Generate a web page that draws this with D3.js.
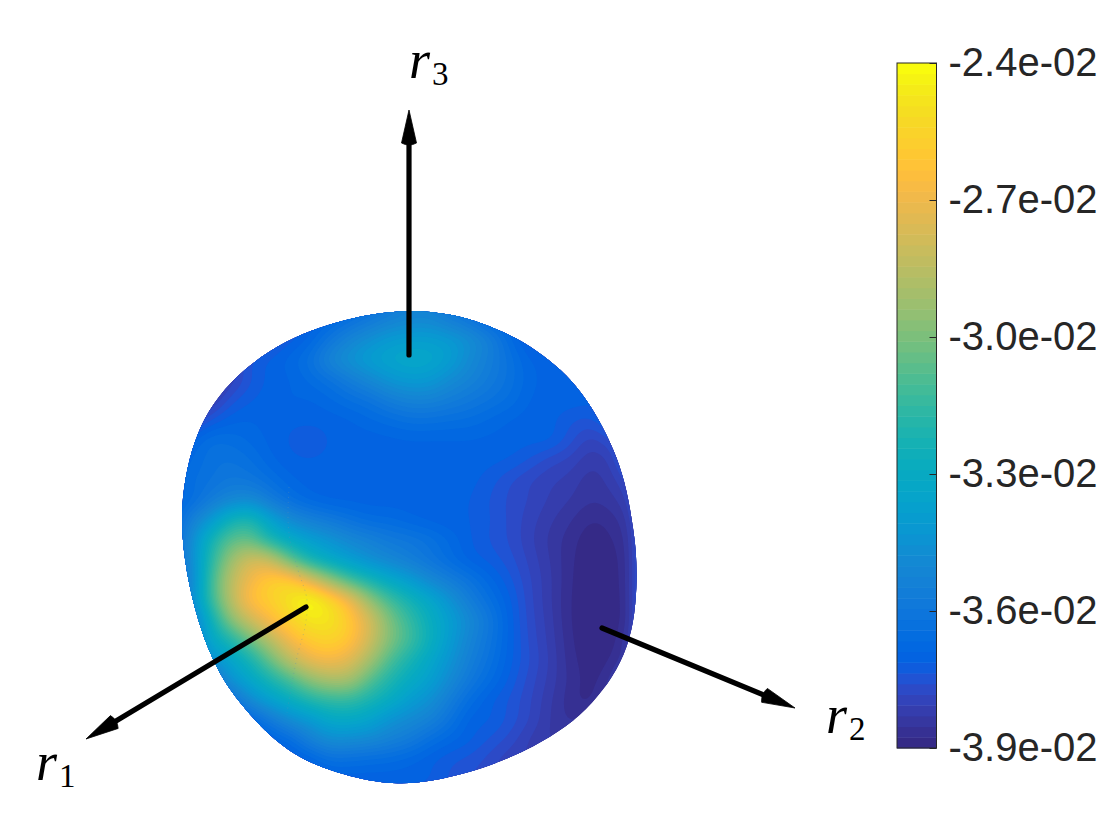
<!DOCTYPE html>
<html>
<head>
<meta charset="utf-8">
<script src="https://cdn.jsdelivr.net/npm/d3@7"></script>
<style>
  body { margin: 0; background: #fff; }
  svg { display: block; }
</style>
</head>
<body>
<div id="chart"></div>
<script>
const width = 1120;
const height = 840;

// colour limits of the surface, in units of 1e-3
const limits = [-39, -24];
const tickValues = [-39, -36, -33, -30, -27, -24];
const tickLabels = ["-3.9e-02", "-3.6e-02", "-3.3e-02", "-3.0e-02", "-2.7e-02", "-2.4e-02"];

// parula, 64 levels
const parula = [
  [.2081,.1663,.5292],[.2116,.1898,.5777],[.2123,.2138,.6270],[.2081,.2386,.6771],
  [.1959,.2645,.7279],[.1707,.2919,.7792],[.1253,.3242,.8303],[.0591,.3598,.8683],
  [.0117,.3875,.8820],[.0060,.4086,.8828],[.0165,.4266,.8786],[.0329,.4430,.8720],
  [.0498,.4586,.8641],[.0629,.4737,.8554],[.0723,.4887,.8467],[.0779,.5040,.8384],
  [.0793,.5200,.8312],[.0749,.5375,.8263],[.0641,.5570,.8240],[.0488,.5772,.8228],
  [.0343,.5966,.8199],[.0265,.6137,.8135],[.0239,.6287,.8038],[.0231,.6418,.7913],
  [.0228,.6535,.7768],[.0267,.6642,.7607],[.0384,.6743,.7436],[.0590,.6838,.7254],
  [.0843,.6928,.7062],[.1133,.7015,.6859],[.1453,.7098,.6646],[.1801,.7177,.6424],
  [.2178,.7250,.6193],[.2586,.7317,.5954],[.3022,.7376,.5712],[.3482,.7424,.5473],
  [.3953,.7459,.5244],[.4420,.7481,.5033],[.4871,.7491,.4840],[.5300,.7491,.4661],
  [.5709,.7485,.4494],[.6099,.7473,.4337],[.6473,.7456,.4188],[.6834,.7435,.4044],
  [.7184,.7411,.3905],[.7525,.7384,.3768],[.7858,.7356,.3633],[.8185,.7327,.3498],
  [.8507,.7299,.3360],[.8824,.7274,.3217],[.9139,.7258,.3063],[.9450,.7261,.2886],
  [.9739,.7314,.2666],[.9938,.7455,.2403],[.9990,.7653,.2164],[.9955,.7861,.1967],
  [.9880,.8066,.1794],[.9789,.8271,.1633],[.9697,.8481,.1475],[.9626,.8705,.1309],
  [.9589,.8949,.1132],[.9598,.9218,.0948],[.9661,.9514,.0755],[.9763,.9831,.0538]
].map(([r, g, b]) => d3.rgb(r * 255, g * 255, b * 255).formatHex());

// surface values, one row per view-plane step (1e-3)
const surface = [
  [-38,-38,-38,-38,-38,-38,-38,-38,-37.5,-37,-36.5,-36,-35.5,-35.5,-36,-36.5,-37,-37.2,-37.2,-37.2,-37.2,-37.2,-37.2,-37.2,-37.2],
  [-38,-38,-38,-38,-38,-38,-37.6,-37.2,-36.8,-36.3,-35.8,-35.3,-35,-35,-35.5,-36,-36.7,-37,-37.2,-37.2,-37.2,-37.2,-37.2,-37.2,-37.2],
  [-38,-38,-38,-38,-38,-37.6,-37.2,-36.8,-36,-35.2,-34.6,-34.1,-33.9,-33.9,-34.2,-34.8,-35.6,-36.6,-37.2,-37.2,-37.2,-37.2,-37.2,-37.2,-37.2],
  [-38,-38,-38,-38,-37.4,-37.1,-36.8,-36.3,-35.3,-34.6,-34,-33.6,-33.4,-33.5,-34,-34.9,-35.6,-36.3,-36.9,-37,-37.1,-37.2,-37.2,-37.2,-37.2],
  [-38.5,-38.5,-38.5,-38,-37.4,-37.05,-36.9,-36.6,-36.2,-35.6,-35,-34.4,-34.1,-34.2,-34.8,-35.3,-35.8,-36.3,-36.8,-37,-37,-37,-37,-37,-37],
  [-38.5,-38.5,-38.2,-37.5,-37.15,-37,-36.9,-36.9,-36.7,-36.4,-36.1,-35.6,-35.3,-35.3,-35.6,-35.9,-36.2,-36.5,-36.9,-37,-37,-37.05,-37,-37,-36.8],
  [-38,-38,-37.4,-37,-36.9,-37,-37.05,-37.05,-37,-36.9,-36.7,-36.5,-36.3,-36.3,-36.4,-36.5,-36.7,-36.9,-37,-37.05,-37.3,-37.4,-37,-36.8,-36.5],
  [-37,-37,-36.5,-36.5,-36.7,-36.95,-37.15,-37.3,-37.1,-37,-37,-36.95,-36.9,-36.9,-36.9,-36.9,-36.95,-37,-37.05,-37.1,-37.5,-37.9,-37.6,-37,-36.3],
  [-37,-36.7,-36.3,-36.2,-36.4,-36.8,-37.05,-37.1,-37.05,-37,-37,-37,-37,-37,-37,-37,-37.05,-37.15,-37.4,-37.7,-37.9,-38.2,-38,-37,-36.3],
  [-37,-36.5,-36.2,-35.9,-36,-36.4,-36.8,-37,-37,-37,-37,-37,-37,-37,-37,-37.05,-37.25,-37.55,-37.8,-38,-38.15,-38.4,-38.2,-37.6,-36.3],
  [-37,-36.5,-35.7,-35,-34.8,-35.6,-36.3,-36.7,-36.9,-36.95,-37,-37,-37,-37,-37.05,-37.12,-37.37,-37.65,-37.85,-38.1,-38.3,-38.5,-38.4,-37.9,-36.3],
  [-37,-35.6,-34.2,-32.6,-32.2,-33.6,-34.8,-35.4,-35.8,-36.2,-36.5,-36.6,-36.8,-36.95,-37.05,-37.12,-37.35,-37.65,-37.95,-38.25,-38.5,-38.75,-38.65,-38.15,-36.3],
  [-36.8,-35,-32.6,-30.8,-30.5,-31.9,-33,-33.8,-34.4,-35,-35.4,-35.8,-36,-36.3,-36.7,-37.1,-37.37,-37.63,-38,-38.35,-38.65,-38.9,-38.8,-38.3,-36.3],
  [-36.5,-35,-32,-29.5,-28,-28.3,-30.3,-32,-33,-33.8,-34.5,-35,-35.5,-36,-36.5,-36.95,-37.2,-37.5,-37.9,-38.3,-38.7,-38.95,-38.9,-38.35,-36.3],
  [-36.5,-35.2,-31.6,-28.7,-27,-26,-26.1,-27.6,-29.4,-31,-32.2,-33.2,-34,-34.9,-35.6,-36.2,-36.8,-37.3,-37.8,-38.25,-38.72,-39,-38.95,-38.35,-36.3],
  [-36.5,-35,-31.7,-28.8,-26.6,-25.8,-24.9,-24.3,-25.5,-27.2,-29.5,-31.2,-32.4,-33.4,-34.5,-35.6,-36.4,-37.1,-37.75,-38.25,-38.75,-39,-39,-38.35,-36.3],
  [-37,-35.8,-32.8,-30,-28.1,-26.7,-25.6,-24.8,-24.9,-26.1,-27.9,-30,-31.5,-32.8,-33.9,-35,-36,-37,-37.7,-38.2,-38.75,-39,-39,-38.35,-36.3],
  [-37,-36,-33.5,-32,-30.3,-28.6,-26.9,-25.9,-25.6,-26.3,-28,-29.9,-31.3,-32.7,-34,-35.2,-36.1,-37,-37.65,-38.15,-38.7,-39,-38.9,-38.2,-36.3],
  [-37,-36.5,-34.7,-33.5,-32.2,-30.4,-28.6,-27.3,-26.9,-27.5,-29.1,-30.9,-32.2,-33.3,-34.4,-35.5,-36.3,-37.05,-37.6,-38.1,-38.65,-38.9,-38.75,-38.1,-36.5],
  [-37,-37,-36.5,-34.6,-33.4,-32.2,-31,-29.7,-29,-29.2,-30.7,-32,-33,-33.8,-34.9,-35.9,-36.6,-37.2,-37.7,-38.15,-38.6,-38.85,-38.5,-37.5,-37],
  [-37,-37,-37,-36.4,-34.9,-33.8,-32.9,-32,-31.5,-31.5,-32.2,-33,-33.9,-34.6,-35.6,-36.5,-37.05,-37.4,-37.8,-38.25,-38.65,-38.8,-38.2,-37.4,-37],
  [-37.5,-37.5,-37.5,-37.5,-36.8,-35.8,-34.8,-34.1,-33.3,-33.2,-33.6,-34.4,-34.9,-35.4,-36.2,-36.95,-37.12,-37.45,-37.85,-38.3,-38.55,-38.4,-38,-37.5,-37],
  [-37.6,-37.6,-37.6,-37.6,-37.6,-37,-36.5,-35.5,-34.8,-34.8,-35,-35.4,-35.8,-36.4,-36.8,-37.1,-37.4,-37.7,-38.1,-38.3,-38.3,-38.2,-38,-37.5,-37],
  [-37.6,-37.6,-37.6,-37.6,-37.6,-37.4,-37.2,-36.9,-36.4,-36.4,-36.5,-36.6,-36.8,-37.05,-37.3,-37.45,-37.7,-38,-38.1,-38.1,-38.1,-38,-38,-37.5,-37],
  [-37.6,-37.6,-37.6,-37.6,-37.6,-37.6,-37.4,-37.3,-37.1,-37.05,-37.05,-37.05,-37.05,-37.12,-37.4,-37.6,-37.8,-38,-38,-38,-38,-38,-38,-37.5,-37],
  [-37.6,-37.6,-37.6,-37.6,-37.6,-37.6,-37.5,-37.4,-37.3,-37.3,-37.3,-37.3,-37.3,-37.4,-37.5,-37.6,-37.8,-38,-38,-38,-38,-38,-38,-37.5,-37]
];

// silhouette of the surface, view-plane coordinates
const outline = [
  [12,.5],[14,.68],[15.65,1.15],[17.35,1.9],[18.65,2.75],[19.85,3.75],[20.85,5],[21.65,6.35],
  [22.35,7.85],[22.85,9.5],[23.15,11.35],[23.3,12.5],[23.35,14],[23.25,15.65],[22.9,17.35],[22.15,18.85],
  [21.15,20.15],[19.85,21.35],[18.15,22.35],[16.5,23.1],[14.85,23.65],[13.15,24.05],[11.5,24.2],
  [10.35,24.12],[8.35,23.65],[6.65,23],[5.5,22.2],[4.5,21.3],[3.5,20.15],[2.65,19],[2,17.65],[1.5,16.35],
  [1,14.5],[.65,12.5],[.55,10.35],[.85,8.35],[1.35,6.65],[2.15,5.15],[3.35,3.75],[5,2.5],[6.65,1.65],
  [8.35,1.1],[10,.7]
];

// faint mesh seam showing through the surface
const seam = [[5.95,9.35],[5.9,10.85],[6,12],[6.4,13.5],[6.85,15],[6.75,16.35],[6.4,17.65],[6.1,19.15],[5.85,20.65]];

const axesNames = ["r", "r", "r"];
const axesSubs = ["1", "2", "3"];
const axesStart = [[6.8,15.35],[21.6,16.4],[11.95,2.75]];
const axesTip = [[-4.2,21.95],[31.25,20.4],[11.95,-9.5]];
const axesLabel = [[-6.7,24],[32.8,21.65],[11.95,-11.1]];

const x = d3.scaleLinear().domain([0, 24]).range([170, 650]);
const y = d3.scaleLinear().domain([0, 25]).range([300, 800]);
const color = d3.scaleQuantize().domain(limits).range(parula);

const svg = d3.select("#chart").append("svg")
  .attr("width", width)
  .attr("height", height)
  .attr("viewBox", [0, 0, width, height]);

const outlinePath = d3.line().x((d) => x(d[0])).y((d) => y(d[1])).curve(d3.curveBasisClosed)(outline);

svg.append("clipPath").attr("id", "blob")
  .append("path")
  .attr("d", outlinePath);

// catmull-rom upsample so the colour bands come out smooth
const factor = 8;
const rows = surface.length;
const cols = surface[0].length;
const cr = (a, b, c, d, t) => b + 0.5 * t * (c - a + t * (2 * a - 5 * b + 4 * c - d + t * (3 * (b - c) + d - a)));
const at = (i, j) => surface[Math.max(0, Math.min(rows - 1, j))][Math.max(0, Math.min(cols - 1, i))];
const nx = (cols - 1) * factor + 1;
const ny = (rows - 1) * factor + 1;
const fine = new Float64Array(nx * ny);
for (let j = 0; j < ny; j++) {
  const v = j / factor;
  const j0 = Math.floor(v);
  for (let i = 0; i < nx; i++) {
    const u = i / factor;
    const i0 = Math.floor(u);
    const col = [-1, 0, 1, 2].map((k) => cr(at(i0 - 1, j0 + k), at(i0, j0 + k), at(i0 + 1, j0 + k), at(i0 + 2, j0 + k), u - i0));
    fine[j * nx + i] = cr(col[0], col[1], col[2], col[3], v - j0);
  }
}
d3.blur2({data: fine, width: nx, height: ny}, 2);

const bands = d3.contours().size([nx, ny]).smooth(true).thresholds(color.thresholds())(fine);
const toScreen = d3.geoTransform({
  point(px, py) {
    this.stream.point(x((px - 0.5) / factor), y((py - 0.5) / factor));
  }
});
const contourPath = d3.geoPath(toScreen);

const body = svg.append("g").attr("clip-path", "url(#blob)");
body.append("path")
  .attr("d", outlinePath)
  .attr("fill", parula[0]);
body.selectAll("path.band")
  .data(bands)
  .join("path")
  .attr("class", "band")
  .attr("d", contourPath)
  .attr("fill", (d) => color(d.value + 1e-6));

svg.append("path")
  .attr("d", d3.line().x((d) => x(d[0])).y((d) => y(d[1])).curve(d3.curveCatmullRom)(seam))
  .attr("fill", "none")
  .attr("stroke", "#5f8fb0")
  .attr("stroke-opacity", 0.55)
  .attr("stroke-width", 0.7)
  .attr("stroke-dasharray", "1 4");

// axes arrows
const headLen = 33;
const headHalf = 7.5;
const arrows = svg.append("g");
axesStart.forEach((s, i) => {
  const x0 = x(s[0]);
  const y0 = y(s[1]);
  const x1 = x(axesTip[i][0]);
  const y1 = y(axesTip[i][1]);
  const len = Math.hypot(x1 - x0, y1 - y0);
  const ux = (x1 - x0) / len;
  const uy = (y1 - y0) / len;
  const bx = x1 - ux * headLen;
  const by = y1 - uy * headLen;
  arrows.append("line")
    .attr("x1", x0).attr("y1", y0)
    .attr("x2", bx).attr("y2", by)
    .attr("stroke", "#000")
    .attr("stroke-width", 5.2)
    .attr("stroke-linecap", "round");
  // slightly rounded base, as on a 3d cone seen from the side
  arrows.append("path")
    .attr("d", `M${x1},${y1}L${bx - uy * headHalf},${by + ux * headHalf}`
      + `Q${bx - ux * 4},${by - uy * 4} ${bx + uy * headHalf},${by - ux * headHalf}Z`)
    .attr("fill", "#000")
    .attr("stroke", "#000")
    .attr("stroke-width", 0.8)
    .attr("stroke-linejoin", "round");
});

const labels = svg.append("g").attr("font-family", "'Liberation Serif', serif").attr("fill", "#000");
axesLabel.forEach((p, i) => {
  const t = labels.append("text").attr("x", x(p[0])).attr("y", y(p[1]));
  t.append("tspan").attr("font-size", 54).attr("font-style", "italic").text(axesNames[i]);
  t.append("tspan").attr("font-size", 33).attr("dx", 2).attr("dy", 7).text(axesSubs[i]);
});

// colorbar
const barX = 897;
const barW = 39.5;
const barY = d3.scaleLinear().domain(limits).range([748, 63]);
const bar = svg.append("g");
bar.selectAll("rect")
  .data(parula)
  .join("rect")
  .attr("x", barX)
  .attr("width", barW)
  .attr("y", (d, i) => barY(limits[0] + (i + 1) * (limits[1] - limits[0]) / parula.length))
  .attr("height", (barY(limits[0]) - barY(limits[1])) / parula.length + 0.5)
  .attr("fill", (d) => d);
bar.append("rect")
  .attr("x", barX)
  .attr("y", barY(limits[1]))
  .attr("width", barW)
  .attr("height", barY(limits[0]) - barY(limits[1]))
  .attr("fill", "none")
  .attr("stroke", "#262626")
  .attr("stroke-width", 1);

const barAxis = d3.axisRight(barY)
  .tickValues(tickValues)
  .tickSizeInner(-7)
  .tickSizeOuter(0)
  .tickPadding(12)
  .tickFormat((d, i) => tickLabels[i]);
const axisG = svg.append("g")
  .attr("transform", `translate(${barX + barW},0)`)
  .call(barAxis);
axisG.select(".domain").remove();
axisG.selectAll("line").attr("stroke", "#262626");
axisG.selectAll("text")
  .attr("fill", "#262626")
  .attr("font-family", "'Liberation Sans', Arial, sans-serif")
  .attr("font-size", 40);
</script>
</body>
</html>
